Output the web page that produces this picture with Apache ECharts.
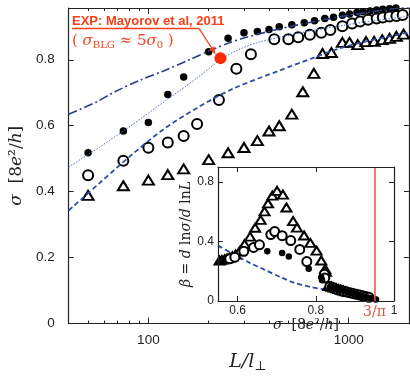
<!DOCTYPE html>
<html>
<head>
<meta charset="utf-8">
<script src="https://cdn.jsdelivr.net/npm/echarts@6.0.0/dist/echarts.min.js"></script>
<style>
html, body { margin: 0; padding: 0; background: #fff; }
#main { width: 410px; height: 378px; }
</style>
</head>
<body>
<div id="main"></div>
<script>
// main panel: sigma vs L/l_perp
var lMajorTicks = [100, 1000];
var lMinorTicks = [50, 60, 70, 80, 90, 200, 300, 400, 500, 600, 700, 800, 900, 2000];
var sigmaTicks = [0, 0.2, 0.4, 0.6, 0.8];

var filledL = [50, 75, 100, 125, 150, 200, 250, 300, 350, 400, 450, 520, 600, 675, 760, 840, 930, 1010, 1100, 1180, 1280, 1380, 1480, 1600, 1720, 1860];
var filledSigma = [0.518, 0.584, 0.610, 0.695, 0.748, 0.824, 0.865, 0.882, 0.886, 0.892, 0.900, 0.906, 0.912, 0.918, 0.925, 0.929, 0.935, 0.939, 0.943, 0.946, 0.948, 0.951, 0.953, 0.955, 0.957, 0.959];

var openL = [50, 75, 100, 125, 150, 175, 225, 275, 325, 425, 500, 560, 640, 730, 810, 930, 1040, 1140, 1250, 1380, 1480, 1600, 1730, 1860];
var openSigma = [0.450, 0.494, 0.533, 0.549, 0.569, 0.605, 0.678, 0.773, 0.817, 0.862, 0.862, 0.868, 0.876, 0.882, 0.890, 0.902, 0.910, 0.916, 0.921, 0.925, 0.928, 0.931, 0.933, 0.936];

var triL = [50, 75, 100, 125, 150, 200, 250, 300, 350, 400, 450, 520, 590, 670, 740, 820, 930, 1010, 1110, 1220, 1340, 1470, 1600, 1730, 1880];
var triSigma = [0.389, 0.418, 0.435, 0.452, 0.469, 0.497, 0.518, 0.534, 0.555, 0.584, 0.600, 0.635, 0.703, 0.759, 0.819, 0.822, 0.853, 0.853, 0.846, 0.855, 0.856, 0.861, 0.865, 0.871, 0.878];

var expL = [229];
var expSigma = [0.805];

// fitted curves
var fitTopL = [40, 55, 68, 90, 120, 160, 200, 250, 300, 400, 520, 760, 1000, 1500, 2000];
var fitTopSigma = [0.635, 0.672, 0.703, 0.737, 0.767, 0.800, 0.826, 0.850, 0.866, 0.886, 0.902, 0.922, 0.935, 0.951, 0.961];
var fitMidL = [40, 57, 83, 120, 175, 229, 280, 350, 450, 650, 1000, 1400, 2000];
var fitMidSigma = [0.475, 0.535, 0.603, 0.673, 0.745, 0.800, 0.830, 0.852, 0.868, 0.888, 0.907, 0.920, 0.932];
var fitLowL = [40, 57, 83, 120, 175, 264, 454, 660, 893, 1204, 2000];
var fitLowSigma = [0.343, 0.426, 0.513, 0.591, 0.654, 0.712, 0.768, 0.805, 0.834, 0.855, 0.883];

// inset: beta vs sigma
var insetXTicks = [0.6, 0.8, 1];
var insetYTicks = [0, 0.4, 0.8];
var threeOverPi = 3 / Math.PI;

var inTriSigma = [0.554, 0.560, 0.567, 0.573, 0.580, 0.587, 0.595, 0.605, 0.618, 0.632, 0.645, 0.659, 0.669, 0.678, 0.689, 0.701, 0.716, 0.725, 0.742, 0.752, 0.770, 0.786, 0.802, 0.814, 0.824, 0.826, 0.832, 0.840, 0.846, 0.852, 0.858, 0.864, 0.870, 0.876, 0.882];
var inTriBeta = [0.272, 0.276, 0.281, 0.286, 0.292, 0.300, 0.312, 0.334, 0.382, 0.432, 0.492, 0.545, 0.602, 0.655, 0.708, 0.740, 0.715, 0.628, 0.537, 0.493, 0.440, 0.390, 0.338, 0.272, 0.215, 0.195, 0.100, 0.095, 0.090, 0.085, 0.080, 0.075, 0.070, 0.065, 0.060];

var inOpenSigma = [0.580, 0.593, 0.616, 0.641, 0.656, 0.685, 0.695, 0.714, 0.736, 0.759, 0.777, 0.822, 0.823, 0.836, 0.842, 0.848, 0.856, 0.864, 0.872, 0.880, 0.888, 0.896, 0.904, 0.912, 0.920, 0.928, 0.936];
var inOpenBeta = [0.283, 0.294, 0.334, 0.360, 0.377, 0.446, 0.466, 0.439, 0.406, 0.346, 0.265, 0.180, 0.155, 0.098, 0.092, 0.085, 0.078, 0.072, 0.066, 0.060, 0.055, 0.050, 0.045, 0.040, 0.035, 0.030, 0.025];

var inFilledSigma = [0.676, 0.714, 0.731, 0.782, 0.814, 0.816, 0.838, 0.846, 0.853, 0.860, 0.867, 0.874, 0.881, 0.888, 0.895, 0.902, 0.909, 0.916, 0.923, 0.930, 0.937, 0.943, 0.949, 0.954];
var inFilledBeta = [0.334, 0.323, 0.299, 0.217, 0.160, 0.140, 0.090, 0.085, 0.080, 0.076, 0.072, 0.066, 0.060, 0.055, 0.050, 0.045, 0.040, 0.035, 0.030, 0.026, 0.022, 0.018, 0.014, 0.010];

var inFitSigma = [0.55, 0.593, 0.63, 0.669, 0.71, 0.746, 0.79, 0.83];
var inFitBeta = [0.372, 0.31, 0.258, 0.21, 0.16, 0.122, 0.092, 0.075];

function zip(a, b) {
	var out = [];
	for (var i = 0; i < a.length; i++) out.push([a[i], b[i]]);
	return out;
}

var ink = '#222';
var red = '#f4401c';
var serif = '"DejaVu Serif", "Liberation Serif", serif';
var sans = '"Liberation Sans", Arial, sans-serif';

function boxAxis(extra) {
	var base = {
		axisLine: { onZero: false, lineStyle: { color: ink, width: 1.2 } },
		axisTick: { inside: true, length: 5, lineStyle: { color: ink, width: 1 } },
		axisLabel: { show: false },
		splitLine: { show: false }
	};
	for (var k in extra) base[k] = extra[k];
	return base;
}
function ticks(vals, len) {
	return { inside: true, length: len, customValues: vals, lineStyle: { color: ink, width: 1 } };
}
var noLine = { show: false, onZero: false };

var mainX = { type: 'log', gridIndex: 0, min: 40, max: 2000, logBase: 10 };
var insetX = { type: 'value', gridIndex: 1, min: 0.55, max: 1, z: 5 };

var chart = echarts.init(document.getElementById('main'));
chart.setOption({
	animation: false,
	backgroundColor: '#fff',
	grid: [
		{ left: 64, top: 8, width: 345, height: 328 },
		{ left: 218, top: 167, width: 176, height: 134, show: true, backgroundColor: '#fff', borderWidth: 0, z: 3 }
	],
	xAxis: [
		boxAxis(Object.assign({}, mainX, {
			position: 'bottom', axisTick: ticks(lMajorTicks, 6),
			axisLabel: { show: true, customValues: lMajorTicks, margin: 10, color: ink, fontFamily: sans, fontSize: 13.5,
				formatter: function (v) { return String(Math.round(v)); } },
			name: '{i|L/l}{s|⊥}', nameLocation: 'middle', nameGap: 21,
			nameTextStyle: { padding: [0, 0, 0, 18], rich: {
				i: { fontFamily: serif, fontStyle: 'italic', fontSize: 19, color: ink },
				s: { fontFamily: serif, fontSize: 13, color: ink, padding: [9, 0, 0, 0] }
			} }
		})),
		boxAxis(Object.assign({}, mainX, { position: 'bottom', axisLine: noLine, axisTick: ticks(lMinorTicks, 3) })),
		boxAxis(Object.assign({}, mainX, { position: 'top', axisTick: ticks(lMajorTicks, 6) })),
		boxAxis(Object.assign({}, mainX, { position: 'top', axisLine: noLine, axisTick: ticks(lMinorTicks, 3) })),
		boxAxis(Object.assign({}, insetX, {
			position: 'bottom', axisTick: ticks(insetXTicks, 5),
			axisLabel: { show: true, customValues: insetXTicks, margin: 4, color: ink, fontFamily: sans, fontSize: 12,
				formatter: function (v) { return v === 1 ? '1' : v.toFixed(1); } },
			name: '{i|σ}  [8{i|e}²/{i|h}]', nameLocation: 'middle', nameGap: 17,
			nameTextStyle: { fontFamily: serif, fontSize: 14, color: ink, rich: {
				i: { fontFamily: serif, fontStyle: 'italic', fontSize: 14, color: ink }
			} }
		})),
		boxAxis(Object.assign({}, insetX, { position: 'top', axisTick: ticks(insetXTicks, 5) }))
	],
	yAxis: [
		boxAxis({
			type: 'value', gridIndex: 0, min: 0, max: 0.957, position: 'left', axisTick: ticks(sigmaTicks, 5),
			axisLabel: { show: true, customValues: sigmaTicks, margin: 14, color: ink, fontFamily: sans, fontSize: 13.5,
				formatter: function (v) { return v === 0 ? '0' : v.toFixed(1); } },
			name: '{i|σ}  [8{i|e}²/{i|h}]', nameLocation: 'middle', nameGap: 36, nameRotate: 90,
			nameTextStyle: { fontFamily: serif, fontSize: 17, color: ink, rich: {
				i: { fontFamily: serif, fontStyle: 'italic', fontSize: 17, color: ink }
			} }
		}),
		boxAxis({ type: 'value', gridIndex: 0, min: 0, max: 0.957, position: 'right', axisTick: ticks(sigmaTicks, 5) }),
		boxAxis({
			type: 'value', gridIndex: 1, min: 0, max: 0.9, position: 'left', z: 5, axisTick: ticks(insetYTicks, 5),
			axisLabel: { show: true, customValues: insetYTicks, margin: 4, color: ink, fontFamily: sans, fontSize: 12,
				formatter: function (v) { return v === 0 ? '0' : v.toFixed(1); } },
			name: '{i|β} = {i|d} ln{i|σ}/{i|d} ln{i|L}', nameLocation: 'middle', nameGap: 21, nameRotate: 90,
			nameTextStyle: { fontFamily: serif, fontSize: 14, color: ink, rich: {
				i: { fontFamily: serif, fontStyle: 'italic', fontSize: 14, color: ink }
			} }
		}),
		boxAxis({ type: 'value', gridIndex: 1, min: 0, max: 0.9, position: 'right', z: 5, axisTick: ticks(insetYTicks, 5) })
	],
	series: [
		{ type: 'line', xAxisIndex: 0, yAxisIndex: 0, data: zip(fitTopL, fitTopSigma), symbol: 'none', smooth: 0.3,
			lineStyle: { color: '#2a3c85', width: 1.6, type: [9, 3, 2, 3] } },
		{ type: 'line', xAxisIndex: 0, yAxisIndex: 0, data: zip(fitMidL, fitMidSigma), symbol: 'none', smooth: 0.3,
			lineStyle: { color: '#5570c0', width: 1, type: [1.5, 1.5] } },
		{ type: 'line', xAxisIndex: 0, yAxisIndex: 0, data: zip(fitLowL, fitLowSigma), symbol: 'none', smooth: 0.3,
			lineStyle: { color: '#2e4ea6', width: 1.8, type: [5, 3] } },
		{ type: 'scatter', xAxisIndex: 0, yAxisIndex: 0, data: zip(filledL, filledSigma), symbol: 'circle', symbolSize: 7.5,
			itemStyle: { color: '#000', opacity: 1 } },
		{ type: 'scatter', xAxisIndex: 0, yAxisIndex: 0, data: zip(openL, openSigma), symbol: 'emptyCircle', symbolSize: 10,
			itemStyle: { color: '#000', borderWidth: 1.4, opacity: 1 } },
		{ type: 'scatter', xAxisIndex: 0, yAxisIndex: 0, data: zip(triL, triSigma), symbol: 'emptyTriangle', symbolSize: [11, 9],
			itemStyle: { color: '#000', borderWidth: 1.4, opacity: 1 } },
		{ type: 'scatter', xAxisIndex: 0, yAxisIndex: 0, data: zip(expL, expSigma), symbol: 'circle', symbolSize: 12, z: 5,
			itemStyle: { color: '#ff2a00', opacity: 1 } },

		{ type: 'line', xAxisIndex: 4, yAxisIndex: 2, data: zip(inFitSigma, inFitBeta), symbol: 'none', smooth: 0.3, z: 4,
			lineStyle: { color: '#2e4ea6', width: 1.8, type: [5, 3] },
			markLine: { silent: true, symbol: 'none', animation: false,
				lineStyle: { color: '#e4573d', width: 1.5, type: 'solid' },
				label: { show: true, position: 'start', formatter: '3/π', color: '#e4573d', fontFamily: serif, fontSize: 14, distance: 4 },
				data: [{ xAxis: threeOverPi }] } },
		{ type: 'scatter', xAxisIndex: 4, yAxisIndex: 2, data: zip(inTriSigma, inTriBeta), symbol: 'emptyTriangle', symbolSize: [10, 8], z: 4,
			itemStyle: { color: '#000', borderWidth: 1.3, opacity: 1 } },
		{ type: 'scatter', xAxisIndex: 4, yAxisIndex: 2, data: zip(inOpenSigma, inOpenBeta), symbol: 'emptyCircle', symbolSize: 9, z: 4,
			itemStyle: { color: '#000', borderWidth: 1.3, opacity: 1 } },
		{ type: 'scatter', xAxisIndex: 4, yAxisIndex: 2, data: zip(inFilledSigma, inFilledBeta), symbol: 'circle', symbolSize: 6.5, z: 4,
			itemStyle: { color: '#000', opacity: 1 } }
	],
	graphic: [
		{ type: 'text', left: 72, top: 15, z: 10,
			style: { text: 'EXP: Mayorov et al, 2011', fill: red, font: 'bold 13px "Liberation Sans", Arial, sans-serif' } },
		{ type: 'text', left: 72, top: 34, z: 10,
			style: { text: '( {i|σ}{s|BLG} ≈ 5{i|σ}{s|0} )', fill: red, font: '15px "DejaVu Serif", serif',
				rich: {
					i: { fontFamily: serif, fontStyle: 'italic', fontSize: 15, fill: red },
					s: { fontFamily: serif, fontSize: 10, fill: red, padding: [8, 0, 0, 0] }
				} } },
		{ type: 'polyline', z: 10, shape: { points: [[72, 28.5], [199, 28.5], [213, 50]] },
			style: { stroke: red, lineWidth: 1.3, fill: null } },
		{ type: 'polygon', z: 10, shape: { points: [[215.5, 54.5], [209.2, 49.2], [214.3, 46.2]] },
			style: { fill: red } }
	]
});
</script>
</body>
</html>
